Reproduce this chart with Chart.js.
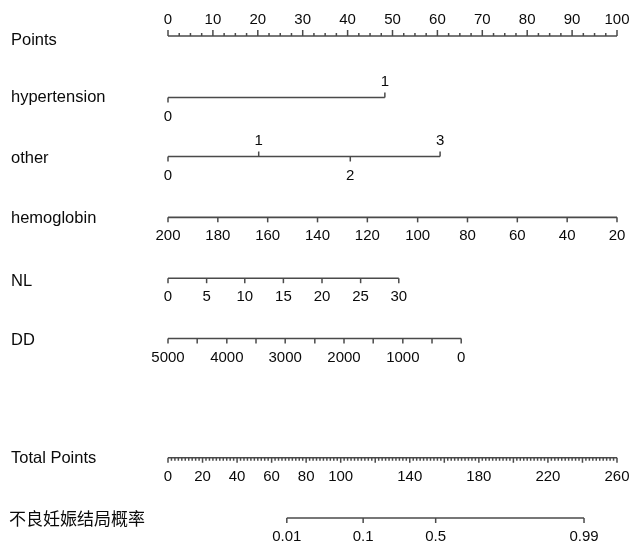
<!DOCTYPE html>
<html>
<head>
<meta charset="utf-8">
<script src="https://cdn.jsdelivr.net/npm/chart.js@4.4.1/dist/chart.umd.min.js"></script>
<style>
  html, body { margin: 0; padding: 0; background: #fff; }
  #wrap { width: 629px; height: 542px; position: relative; }
</style>
</head>
<body>
<div id="wrap"><canvas id="nomo"></canvas></div>
<script>
// row names, top to bottom
const rowNames = ['Points', 'hypertension', 'other', 'hemoglobin', 'NL', 'DD', 'Total Points', '不良妊娠结局概率'];
const rowPos = [0, 1.02, 2, 3.01, 4.02, 5.02, 7, 8];
const nameShift = [4, 0, 2, 1, 3, 2, 1, 1];

// Points scale (0-100)
const pointsLabels = [0, 10, 20, 30, 40, 50, 60, 70, 80, 90, 100];

// hypertension
const hyperLabels = ['0', '1'];
const hyperPoints = [0, 48.3];
const hyperSide = ['down', 'up'];

// other
const otherLabels = ['0', '1', '2', '3'];
const otherPoints = [0, 20.2, 40.6, 60.6];
const otherSide = ['down', 'up', 'down', 'up'];

// hemoglobin
const hemoLabels = [200, 180, 160, 140, 120, 100, 80, 60, 40, 20];
const hemoPoints = [0, 11.1, 22.2, 33.3, 44.4, 55.6, 66.7, 77.8, 88.9, 100];

// NL
const nlLabels = [0, 5, 10, 15, 20, 25, 30];
const nlPoints = [0, 8.6, 17.1, 25.7, 34.3, 42.9, 51.4];

// DD (ticks every 500, labels every 1000)
const ddValues = [5000, 4500, 4000, 3500, 3000, 2500, 2000, 1500, 1000, 500, 0];
const ddPoints = [0, 6.5, 13.1, 19.6, 26.1, 32.7, 39.2, 45.7, 52.3, 58.8, 65.3];

// Total points scale (0-260)
const totalLabels = [0, 20, 40, 60, 80, 100, 140, 180, 220, 260];

// probability
const probLabels = ['0.01', '0.1', '0.5', '0.99'];
const probPoints = [68.8, 113.0, 155.0, 240.9];

const LINE = '#4a4a4a';
const TEXT = '#0a0a0a';
const tickFont = '15px "Liberation Sans", Arial, sans-serif';
const nameFont = '16.5px "Liberation Sans", Arial, sans-serif';
const cjkFont = '17px "Noto Sans CJK SC", sans-serif';

function seg(x0, x1, row, axis) {
  return {
    data: [{ x: x0, y: rowPos[row] }, { x: x1, y: rowPos[row] }],
    xAxisID: axis || 'x',
    borderColor: LINE,
    borderWidth: 1.6,
    pointRadius: 0,
    clip: false
  };
}

// ticks + labels: items = [{p, label, side, len}]
function drawRow(chart, row, axis, items) {
  const ctx = chart.ctx;
  const xs = chart.scales[axis];
  const y = chart.scales.y.getPixelForValue(rowPos[row]);
  ctx.save();
  ctx.strokeStyle = LINE;
  ctx.lineWidth = 1.5;
  ctx.fillStyle = TEXT;
  ctx.font = tickFont;
  ctx.textAlign = 'center';
  ctx.textBaseline = 'middle';
  for (const it of items) {
    const x = xs.getPixelForValue(it.p);
    const dir = it.side === 'up' ? -1 : 1;
    ctx.beginPath();
    ctx.moveTo(x, y);
    ctx.lineTo(x, y + dir * (it.len || 5));
    ctx.stroke();
    if (it.label !== undefined && it.label !== null) {
      ctx.fillText(String(it.label), x, it.side === 'up' ? y - 16 : y + 19);
    }
  }
  ctx.restore();
}

const nomogramPlugin = {
  id: 'nomogram',
  afterDatasetsDraw(chart) {
    const ctx = chart.ctx;
    const ys = chart.scales.y;

    // row names
    ctx.save();
    ctx.fillStyle = TEXT;
    ctx.textAlign = 'left';
    ctx.textBaseline = 'middle';
    rowNames.forEach((n, i) => {
      ctx.font = i === 7 ? cjkFont : nameFont;
      ctx.fillText(n, i === 7 ? 9 : 11, ys.getPixelForValue(rowPos[i]) + nameShift[i]);
    });
    ctx.restore();

    // Points axis: minor ticks every 2.5, labels every 10
    const pts = [];
    for (let v = 0; v <= 100; v += 2.5) {
      const major = v % 10 === 0;
      pts.push({ p: v, side: 'up', len: major ? 6 : 3, label: major ? pointsLabels[v / 10] : null });
    }
    drawRow(chart, 0, 'x', pts);

    drawRow(chart, 1, 'x', hyperPoints.map((p, i) => ({ p, label: hyperLabels[i], side: hyperSide[i] })));
    drawRow(chart, 2, 'x', otherPoints.map((p, i) => ({ p, label: otherLabels[i], side: otherSide[i] })));
    drawRow(chart, 3, 'x', hemoPoints.map((p, i) => ({ p, label: hemoLabels[i], side: 'down' })));
    drawRow(chart, 4, 'x', nlPoints.map((p, i) => ({ p, label: nlLabels[i], side: 'down' })));
    drawRow(chart, 5, 'x', ddPoints.map((p, i) => ({ p, label: ddValues[i] % 1000 === 0 ? ddValues[i] : null, side: 'down' })));

    // Total points: minor every 2, major every 20
    const tot = [];
    for (let v = 0; v <= 260; v += 2) {
      tot.push({ p: v, side: 'down', len: v % 20 === 0 ? 5 : 3, label: totalLabels.includes(v) ? v : null });
    }
    drawRow(chart, 6, 'xt', tot);

    drawRow(chart, 7, 'xt', probPoints.map((p, i) => ({ p, label: probLabels[i], side: 'down' })));
  }
};

new Chart(document.getElementById('nomo'), {
  type: 'line',
  data: {
    datasets: [
      seg(0, 100, 0),
      seg(hyperPoints[0], hyperPoints[hyperPoints.length - 1], 1),
      seg(otherPoints[0], otherPoints[otherPoints.length - 1], 2),
      seg(hemoPoints[0], hemoPoints[hemoPoints.length - 1], 3),
      seg(nlPoints[0], nlPoints[nlPoints.length - 1], 4),
      seg(ddPoints[0], ddPoints[ddPoints.length - 1], 5),
      seg(0, 260, 6, 'xt'),
      seg(probPoints[0], probPoints[probPoints.length - 1], 7, 'xt')
    ]
  },
  options: {
    responsive: true,
    maintainAspectRatio: false,
    animation: false,
    events: [],
    layout: { padding: { left: 168, right: 12, top: 36, bottom: 24 } },
    plugins: { legend: { display: false }, tooltip: { enabled: false } },
    scales: {
      x: { type: 'linear', min: 0, max: 100, display: false },
      xt: { type: 'linear', min: 0, max: 260, display: false },
      y: { type: 'linear', min: 0, max: 8, reverse: true, display: false }
    }
  },
  plugins: [nomogramPlugin]
});
</script>
</body>
</html>
